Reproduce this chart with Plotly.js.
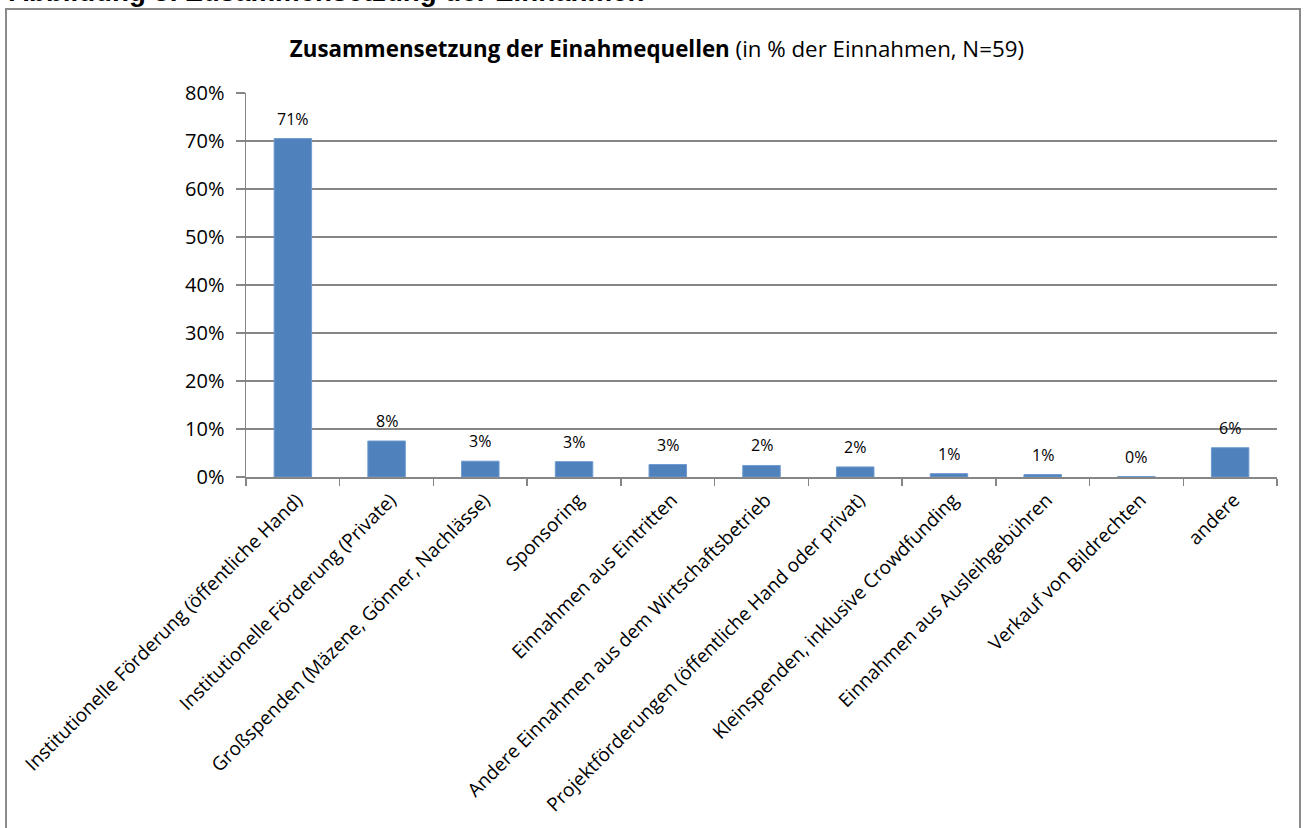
<!DOCTYPE html>
<html>
<head>
<meta charset="utf-8">
<script src="https://cdn.plot.ly/plotly-3.0.1.min.js"></script>
<style>
  html, body { margin: 0; padding: 0; background: #ffffff; overflow: hidden; }
  #wrap { position: relative; width: 1306px; height: 828px; }
  #chart { position: absolute; left: 0; top: 0; width: 1306px; height: 828px; }
  #frame { position: absolute; left: 5px; top: 8px; width: 1296px; height: 900px;
           border: 2px solid #8a8a8a; box-sizing: border-box; pointer-events: none; }
</style>
</head>
<body>
<div id="wrap">
  <div id="chart"></div>
  <div id="frame"></div>
</div>
<script>
// ---- data ----
const categories = [
  "Institutionelle Förderung (öffentliche Hand)",
  "Institutionelle Förderung (Private)",
  "Großspenden (Mäzene, Gönner, Nachlässe)",
  "Sponsoring",
  "Einnahmen aus Eintritten",
  "Andere Einnahmen aus dem Wirtschaftsbetrieb",
  "Projektförderungen (öffentliche Hand oder privat)",
  "Kleinspenden, inklusive Crowdfunding",
  "Einnahmen aus Ausleihgebühren",
  "Verkauf von Bildrechten",
  "andere"
];
const shares = [0.705, 0.075, 0.033, 0.032, 0.026, 0.024, 0.021, 0.007, 0.005, 0.001, 0.061];
const shareLabels = ["71%", "8%", "3%", "3%", "3%", "2%", "2%", "1%", "1%", "0%", "6%"];
const yTickValues = [0, 0.1, 0.2, 0.3, 0.4, 0.5, 0.6, 0.7, 0.8];
const yTickLabels = ["0%", "10%", "20%", "30%", "40%", "50%", "60%", "70%", "80%"];
const chartTitle = "<b>Zusammensetzung der Einahmequellen</b> (in % der Einnahmen, N=59)";
const figureHeading = "Abbildung 8: Zusammensetzung der Einnahmen";

const FONT = "'Open Sans', 'Noto Sans', sans-serif";
const GRID = "#868686";

const trace = {
  type: "bar",
  x: categories,
  y: shares,
  marker: { color: "#4F81BD", line: { color: "#6f9bd0", width: 1 } },
  hoverinfo: "none",
  showlegend: false
};

const annotations = categories.map((c, i) => ({
  x: c, y: shares[i], xref: "x", yref: "y",
  text: shareLabels[i], showarrow: false,
  yanchor: "bottom", yshift: 7,
  font: { family: FONT, size: 16, color: "#000000" }
}));

annotations.push({
  xref: "paper", yref: "paper",
  x: -0.232, y: 1.264, xanchor: "left", yanchor: "middle",
  text: "<b>" + figureHeading + "</b>", showarrow: false,
  font: { family: "'Liberation Sans', Arial, sans-serif", size: 27.7, color: "#000000" }
});

const layout = {
  width: 1306, height: 828,
  margin: { l: 246, r: 29, t: 93, b: 351, pad: 0 },
  paper_bgcolor: "#ffffff",
  plot_bgcolor: "#ffffff",
  bargap: 0.6,
  title: {
    text: chartTitle,
    font: { family: FONT, size: 22.3, color: "#000000" },
    x: 0.503, xref: "container", xanchor: "center",
    y: 0.941, yref: "container", yanchor: "middle"
  },
  xaxis: {
    type: "category",
    tickangle: -45,
    tickson: "boundaries",
    ticks: "outside", ticklen: 7, tickcolor: GRID, tickwidth: 1.5,
    showline: true, linecolor: GRID, linewidth: 1.5,
    showgrid: false,
    tickfont: { family: FONT, size: 19, color: "#000000" },
    ticklabelstandoff: 3,
    ticklabelshift: 4,
    fixedrange: true
  },
  yaxis: {
    range: [0, 0.8],
    tickvals: yTickValues,
    ticktext: yTickLabels,
    ticks: "outside", ticklen: 9, tickcolor: GRID, tickwidth: 1.5,
    showline: true, linecolor: GRID, linewidth: 1.5,
    showgrid: true, gridcolor: GRID, gridwidth: 1.5,
    zeroline: false,
    tickfont: { family: FONT, size: 20, color: "#000000" },
    ticklabelstandoff: 7,
    fixedrange: true
  },
  annotations: annotations
};

Plotly.newPlot("chart", [trace], layout, { displayModeBar: false, staticPlot: true });
</script>
</body>
</html>
